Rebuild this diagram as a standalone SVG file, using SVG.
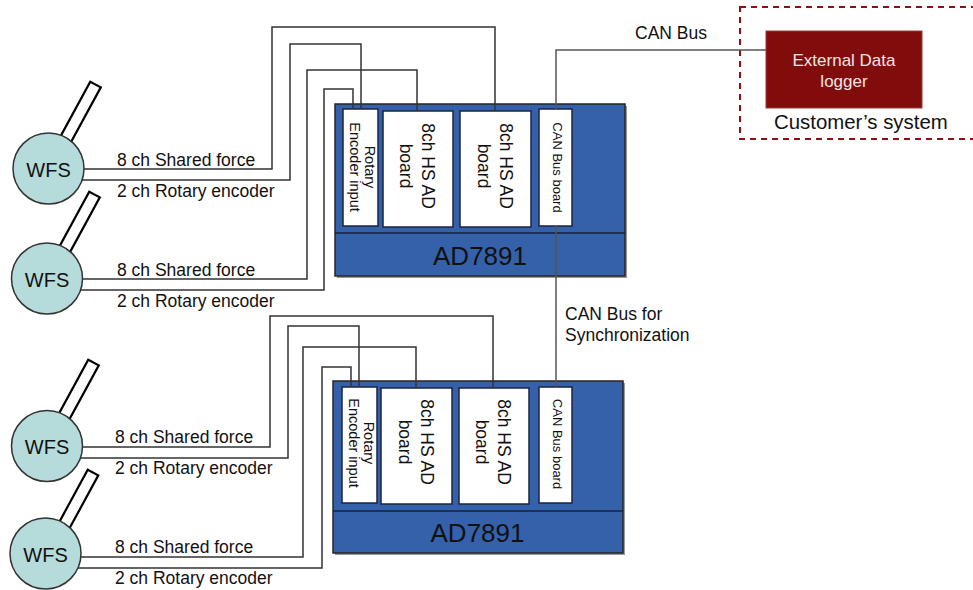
<svg xmlns="http://www.w3.org/2000/svg" width="973" height="590" viewBox="0 0 973 590">
<style>
text{font-family:"Liberation Sans",Arial,sans-serif;fill:#111}
.lbl{font-size:17.5px}
.wfs{font-size:20px;text-anchor:middle}
.unit{fill:#3561ab;stroke:#262626;stroke-width:1.5}
.shadow{fill:#9a9a9a}
.band{stroke:#16213d;stroke-width:1.5}
.board{fill:#fff;stroke:#1b2440;stroke-width:1.5}
.bt{font-size:17.5px;text-anchor:middle}
.rt{font-size:14.5px;text-anchor:middle}
.ct{font-size:13px;text-anchor:middle}
.ad{font-size:26px;text-anchor:middle}
.circ{fill:#b5dcdb;stroke:#333;stroke-width:1.5}
.ant{fill:#fff;stroke:#000;stroke-width:2.2}
.wire{fill:none;stroke:#333;stroke-width:1.5}
.can{fill:none;stroke:#555;stroke-width:1.5}
</style>

<!-- customer system -->
<g id="customer-system">
  <rect x="740" y="7" width="250" height="132" fill="none" stroke="#8b1212" stroke-width="2" stroke-dasharray="6,5"/>
  <text x="774" y="129" style="font-size:20.4px">Customer’s system</text>
</g>
<g id="external-logger">
  <rect x="766" y="31" width="156" height="77" fill="#800d0b" stroke="#9a3a36" stroke-width="1"/>
  <text x="844" y="66" style="font-size:17px;text-anchor:middle;fill:#f3e3e3">External Data</text>
  <text x="844" y="87" style="font-size:17px;text-anchor:middle;fill:#f3e3e3">logger</text>
</g>

<!-- top unit -->
<g id="ad7891-top">
  <rect class="shadow" x="337" y="106" width="290" height="172"/>
  <rect class="unit" x="335" y="104" width="290" height="172"/>
  <line class="band" x1="335" y1="233" x2="625" y2="233"/>
  <text class="ad" x="480" y="265">AD7891</text>
  <g id="top-rotary">
    <rect class="board" x="343" y="109" width="35" height="117"/>
    <text class="rt" transform="translate(360.5,167) rotate(90)"><tspan x="0" y="-4">Rotary</tspan><tspan x="0" y="11">Encoder input</tspan></text>
  </g>
  <g id="top-ad1">
    <rect class="board" x="383" y="111" width="70" height="116"/>
    <text class="bt" transform="translate(418,166) rotate(90)"><tspan x="0" y="-4">8ch HS AD</tspan><tspan x="0" y="18">board</tspan></text>
  </g>
  <g id="top-ad2">
    <rect class="board" x="460" y="111" width="71" height="116"/>
    <text class="bt" transform="translate(495.5,166) rotate(90)"><tspan x="0" y="-4">8ch HS AD</tspan><tspan x="0" y="18">board</tspan></text>
  </g>
  <g id="top-can">
    <rect class="board" x="539" y="109" width="33" height="117"/>
    <text class="ct" transform="translate(555.5,167.5) rotate(90)"><tspan x="0" y="3">CAN Bus board</tspan></text>
  </g>
</g>

<!-- bottom unit -->
<g id="ad7891-bottom">
  <rect class="shadow" x="335" y="383" width="290" height="172"/>
  <rect class="unit" x="333" y="381" width="290" height="172"/>
  <line class="band" x1="333" y1="511" x2="623" y2="511"/>
  <text class="ad" x="477.5" y="542">AD7891</text>
  <g id="bottom-rotary">
    <rect class="board" x="342" y="387" width="35" height="116"/>
    <text class="rt" transform="translate(359.5,443) rotate(90)"><tspan x="0" y="-4">Rotary</tspan><tspan x="0" y="11">Encoder input</tspan></text>
  </g>
  <g id="bottom-ad1">
    <rect class="board" x="381" y="388" width="71" height="116"/>
    <text class="bt" transform="translate(416.5,442) rotate(90)"><tspan x="0" y="-4">8ch HS AD</tspan><tspan x="0" y="18">board</tspan></text>
  </g>
  <g id="bottom-ad2">
    <rect class="board" x="459" y="388" width="70" height="116"/>
    <text class="bt" transform="translate(494,442) rotate(90)"><tspan x="0" y="-4">8ch HS AD</tspan><tspan x="0" y="18">board</tspan></text>
  </g>
  <g id="bottom-can">
    <rect class="board" x="539" y="387" width="33" height="116"/>
    <text class="ct" transform="translate(555.5,444) rotate(90)"><tspan x="0" y="3">CAN Bus board</tspan></text>
  </g>
</g>

<!-- WFS sensors -->
<g id="wfs1">
  <rect class="ant" x="-6" y="0" width="12" height="66" transform="translate(95.5,84.5) rotate(28.5)"/>
  <circle class="circ" cx="48.5" cy="168.5" r="35.5"/>
  <text class="wfs" x="48.5" y="176.5">WFS</text>
</g>
<g id="wfs2">
  <rect class="ant" x="-6" y="0" width="12" height="66" transform="translate(94.5,194.5) rotate(28.5)"/>
  <circle class="circ" cx="47" cy="278.5" r="35.5"/>
  <text class="wfs" x="47" y="286.5">WFS</text>
</g>
<g id="wfs3">
  <rect class="ant" x="-6" y="0" width="12" height="66" transform="translate(93.5,362.5) rotate(28.5)"/>
  <circle class="circ" cx="47" cy="446" r="35.5"/>
  <text class="wfs" x="47" y="454">WFS</text>
</g>
<g id="wfs4">
  <rect class="ant" x="-6" y="0" width="12" height="66" transform="translate(93,472.5) rotate(28.5)"/>
  <circle class="circ" cx="45.5" cy="553.5" r="35.5"/>
  <text class="wfs" x="45.5" y="561.5">WFS</text>
</g>

<!-- connectors -->
<g id="connectors">
  <polyline class="wire" points="84,169 272,169 272,27 495,27 495,111"/>
  <polyline class="wire" points="82,180 290,180 290,44 361,44 361,109"/>
  <polyline class="wire" points="82.5,279 307,279 307,70 417,70 417,111"/>
  <polyline class="wire" points="80.6,290 324,290 324,89 353,89 353,109"/>
  <polyline class="wire" points="82.5,447 270,447 270,316 493,316 493,388"/>
  <polyline class="wire" points="80.4,458 288,458 288,326 359,326 359,387"/>
  <polyline class="wire" points="80.8,557 303,557 303,347 416,347 416,388"/>
  <polyline class="wire" points="77.9,568 322,568 322,367 351,367 351,387"/>
  <polyline class="can" points="556,109 556,50 766,50"/>
  <line class="can" x1="556" y1="226" x2="556" y2="387"/>
  <text class="lbl" x="635" y="39">CAN Bus</text>
  <text class="lbl" x="565" y="320">CAN Bus for</text>
  <text class="lbl" x="565" y="341">Synchronization</text>
  <text class="lbl" x="117" y="166">8 ch Shared force</text>
  <text class="lbl" x="117" y="197">2 ch Rotary encoder</text>
  <text class="lbl" x="117" y="276">8 ch Shared force</text>
  <text class="lbl" x="117" y="307">2 ch Rotary encoder</text>
  <text class="lbl" x="115" y="443">8 ch Shared force</text>
  <text class="lbl" x="115" y="474">2 ch Rotary encoder</text>
  <text class="lbl" x="115" y="553">8 ch Shared force</text>
  <text class="lbl" x="115" y="584">2 ch Rotary encoder</text>
</g>
</svg>
